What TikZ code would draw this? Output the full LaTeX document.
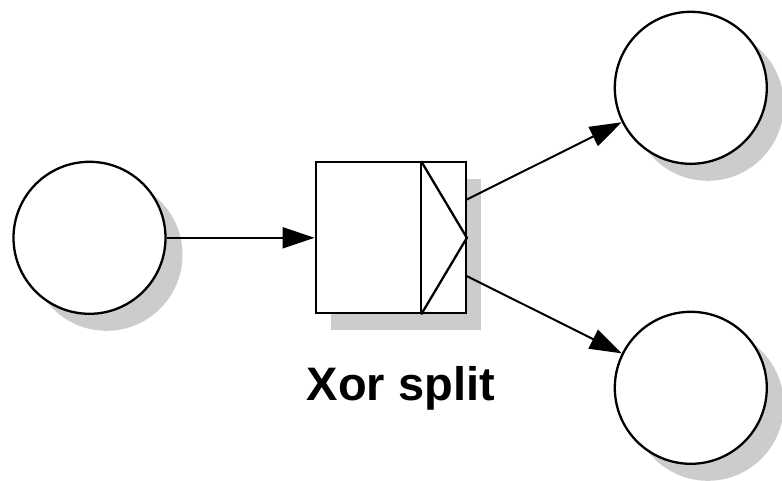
\documentclass[tikz,border=0pt]{standalone}
\usepackage{fontspec}
\setmainfont{Liberation Sans}
\usetikzlibrary{arrows.meta,shadows,calc}

\tikzset{
  place/.style={circle,draw=black,line width=2.3pt,fill=white,minimum size=152pt,inner sep=0pt,
    drop shadow={shadow xshift=17pt,shadow yshift=-17pt,fill=black!20,opacity=1}},
  task/.style={rectangle,draw=black,line width=2.3pt,fill=white,minimum width=150pt,minimum height=151pt,inner sep=0pt,
    drop shadow={shadow xshift=15pt,shadow yshift=-17pt,fill=black!20,opacity=1}},
  flow/.style={line width=2pt,-{Triangle[length=32pt,width=21pt]}},
}

\begin{document}
\begin{tikzpicture}[x=1pt,y=-1pt]
        \useasboundingbox (0,0) rectangle (782,480);
        \node (p1) at (89.5,237.8) [place] {};
        \node (t1) at (390.7,237.8) [task] {};
        \node (p2) at (690.8,87.8) [place] {};
        \node (p3) at (690.8,387.8) [place] {};
        % xor split mark
        \coordinate (d1) at ($(t1.north east)+(-45.7,0)$);
        \coordinate (d2) at ($(t1.south east)+(-45.7,0)$);
        \draw [line width=2.3pt] (d1)--(d2);
        \draw [line width=2.3pt] (d1)--(t1.east)--(d2);
        \coordinate (o1) at ($(t1.north east)!0.25!(t1.south east)$);
        \coordinate (o2) at ($(t1.north east)!0.75!(t1.south east)$);
        \draw [flow] (p1)--(t1);
        \draw [flow] (o1)--(p2);
        \draw [flow] (o2)--(p3);
        \node (lbl) at (400.8,400) [anchor=base,font=\bfseries\fontsize{47}{52}\selectfont] {Xor split};
      \end{tikzpicture}
\end{document}
